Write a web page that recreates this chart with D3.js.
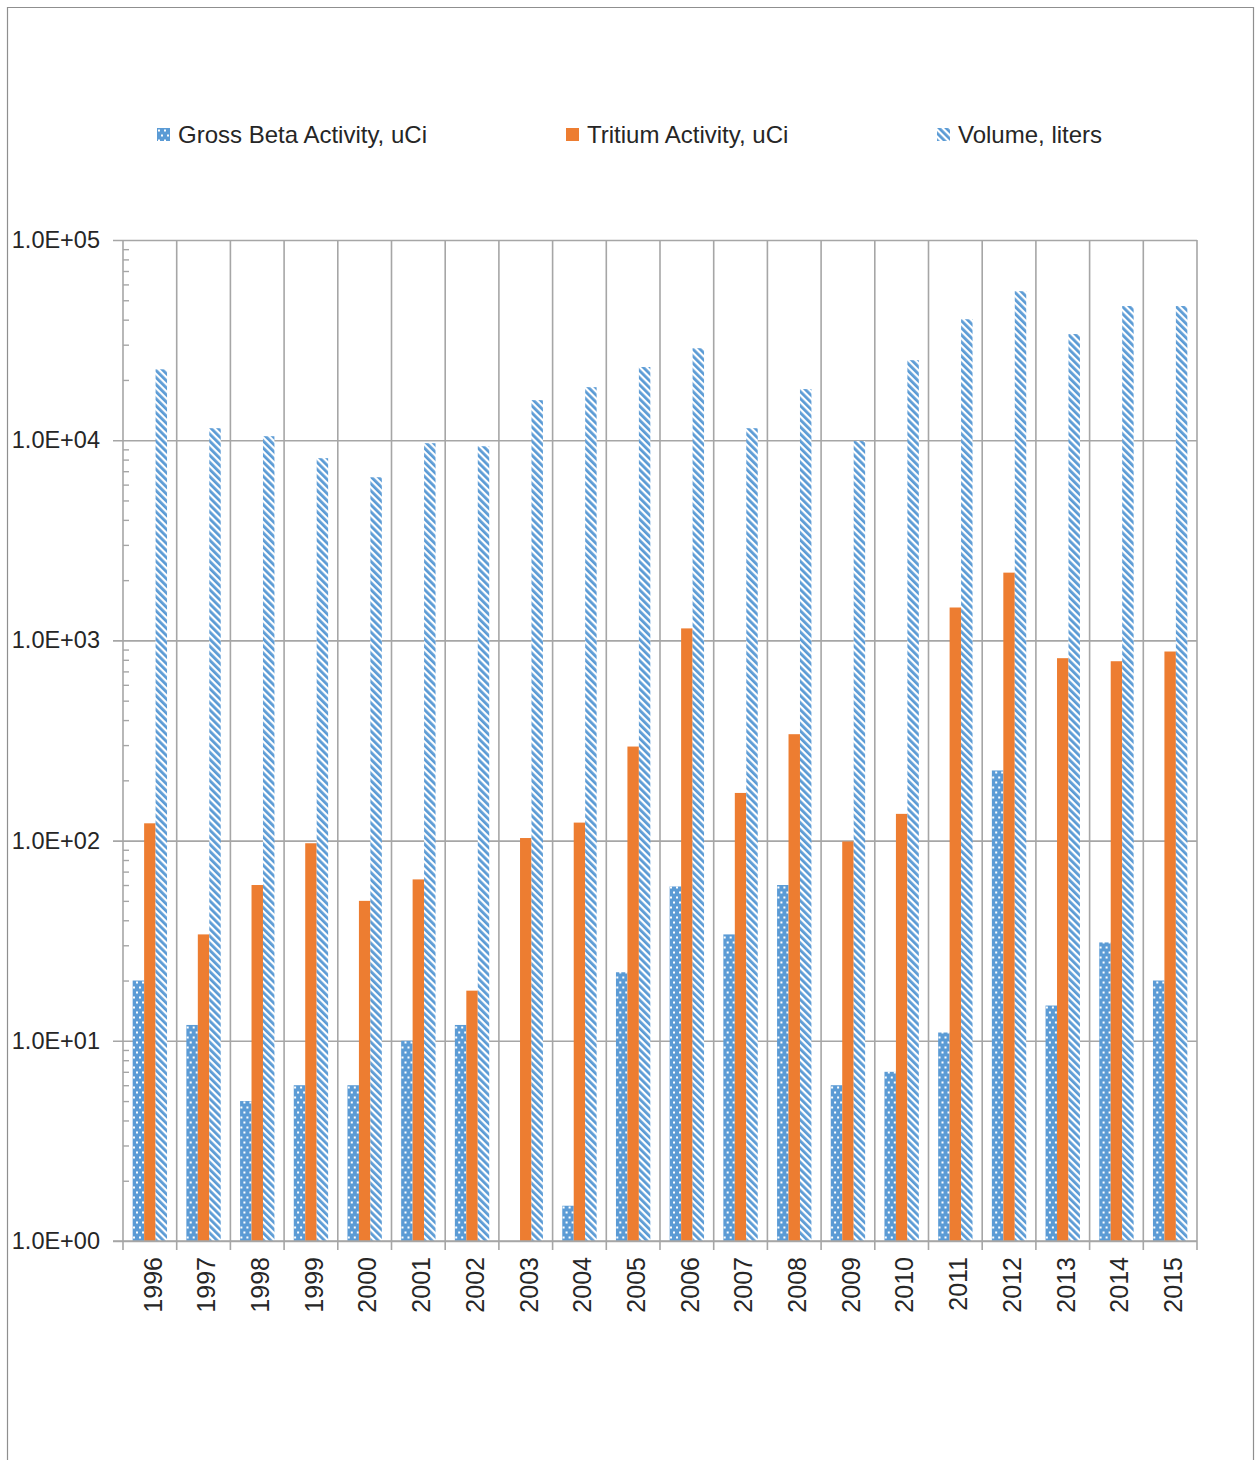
<!DOCTYPE html>
<html>
<head>
<meta charset="utf-8">
<script src="https://cdn.jsdelivr.net/npm/d3@7"></script>
<style>
  html, body { margin: 0; padding: 0; background: #fff; }
  svg text { font-family: "Liberation Sans", Arial, sans-serif; fill: #262626; }
</style>
</head>
<body>
<svg id="chart" width="1255" height="1460"></svg>
<script>
// Annual releases per year (log scale)
const years = ["1996","1997","1998","1999","2000","2001","2002","2003","2004","2005",
               "2006","2007","2008","2009","2010","2011","2012","2013","2014","2015"];
const grossBeta = [20, 12, 5, 6, 6, 10, 12, null, 1.5, 22,
                   59, 34, 60, 6, 7, 11, 224, 15, 31, 20];
const tritium   = [122, 34, 60, 97, 50, 64, 17.8, 103, 123, 295,
                   1148, 173, 340, 99, 136, 1460, 2180, 815, 787, 880];
const volume    = [22600, 11480, 10470, 8130, 6530, 9660, 9330, 15850, 18400, 23200,
                   28800, 11480, 18000, 9900, 25100, 40200, 55500, 33900, 46800, 46800];
const seriesNames = ["Gross Beta Activity, uCi", "Tritium Activity, uCi", "Volume, liters"];
const yTickValues = [1, 10, 100, 1000, 10000, 100000];
const yTickLabels = ["1.0E+00", "1.0E+01", "1.0E+02", "1.0E+03", "1.0E+04", "1.0E+05"];

const svg = d3.select("#chart");
const blue = "#5b9bd5", orange = "#ed7d31", grid = "#a6a6a6";

// Outer frame
svg.append("path")
  .attr("d", "M7.5,1460 V7.5 H1253.5 V1460")
  .attr("fill", "none").attr("stroke", "#8f8f8f").attr("stroke-width", 1.2);

// Fill patterns
const defs = svg.append("defs");
const dots = defs.append("pattern").attr("id", "dots")
  .attr("patternUnits", "userSpaceOnUse").attr("width", 6).attr("height", 10);
dots.append("rect").attr("width", 6).attr("height", 10).attr("fill", blue);
dots.append("rect").attr("x", 1).attr("y", 1.5).attr("width", 2).attr("height", 2).attr("fill", "#fff");
dots.append("rect").attr("x", 4).attr("y", 6.5).attr("width", 2).attr("height", 2).attr("fill", "#fff");

const stripes = defs.append("pattern").attr("id", "stripes")
  .attr("patternUnits", "userSpaceOnUse").attr("width", 5).attr("height", 5)
  .attr("patternTransform", "rotate(-45)");
stripes.append("rect").attr("width", 5).attr("height", 5).attr("fill", "#fff");
stripes.append("rect").attr("width", 2.8).attr("height", 5).attr("fill", blue);

const fills = ["url(#dots)", orange, "url(#stripes)"];
const seriesData = [grossBeta, tritium, volume];

// Plot geometry
const plotLeft = 123, plotRight = 1197, plotTop = 240, plotBottom = 1241;

const x = d3.scaleBand().domain(years).range([plotLeft, plotRight]).padding(0);
const xInner = d3.scaleBand().domain(d3.range(3))
  .range([x.bandwidth() * 0.18, x.bandwidth() * 0.82]).padding(0);
const y = d3.scaleLog().domain([1, 100000]).range([plotBottom, plotTop]);

// Horizontal gridlines + major ticks
const yAxis = d3.axisLeft(y)
  .tickValues(yTickValues)
  .tickSizeInner(10)
  .tickSizeOuter(0)
  .tickPadding(13)
  .tickFormat((d, i) => yTickLabels[i]);
const gy = svg.append("g").attr("transform", `translate(${plotLeft},0)`).call(yAxis);
gy.select(".domain").remove();
gy.selectAll(".tick line").attr("stroke", grid).attr("stroke-width", 1.6)
  .attr("x1", -10).attr("x2", plotRight - plotLeft);
gy.selectAll(".tick text").attr("font-size", 23.5).attr("fill", "#262626");

// Minor ticks inside the axis
const minorValues = [];
for (let e = 0; e < 5; e++) for (let m = 2; m <= 9; m++) minorValues.push(m * Math.pow(10, e));
const gMinor = svg.append("g").attr("transform", `translate(${plotLeft},0)`)
  .call(d3.axisRight(y).tickValues(minorValues).tickSizeInner(6).tickSizeOuter(0).tickFormat(""));
gMinor.select(".domain").remove();
gMinor.selectAll(".tick line").attr("stroke", grid).attr("stroke-width", 1.4);

// Vertical gridlines at category boundaries
const bounds = years.map(d => x(d)).concat([x.range()[1]]);
svg.append("g").selectAll("line").data(bounds).join("line")
  .attr("x1", d => d).attr("x2", d => d)
  .attr("y1", plotTop).attr("y2", plotBottom + 9)
  .attr("stroke", grid).attr("stroke-width", 1.6);

// Bars
const groups = svg.append("g").selectAll("g").data(years).join("g")
  .attr("transform", d => `translate(${x(d)},0)`);
groups.selectAll("rect")
  .data((yr, i) => seriesData.map((s, k) => ({ k, v: s[i] })).filter(d => d.v != null))
  .join("rect")
  .attr("x", d => xInner(d.k))
  .attr("width", xInner.bandwidth())
  .attr("y", d => y(d.v))
  .attr("height", d => y(1) - y(d.v))
  .attr("fill", d => fills[d.k]);

// Bottom axis line
svg.append("line").attr("x1", plotLeft - 10).attr("x2", plotRight)
  .attr("y1", plotBottom).attr("y2", plotBottom).attr("stroke", grid).attr("stroke-width", 1.6);

// Category labels (rotated)
const xAxis = d3.axisBottom(x).tickSize(0).tickPadding(0);
const gx = svg.append("g").attr("transform", `translate(0,${plotBottom})`).call(xAxis);
gx.select(".domain").remove();
gx.selectAll(".tick text")
  .attr("font-size", 25)
  .attr("fill", "#262626")
  .attr("text-anchor", "end")
  .attr("transform", "rotate(-90)")
  .attr("x", -16)
  .attr("y", 3)
  .attr("dy", "0.35em");

// Legend
const legendX = [157, 566, 937];
const legend = svg.append("g").selectAll("g").data(seriesNames).join("g")
  .attr("transform", (d, i) => `translate(${legendX[i]},128)`);
legend.append("rect").attr("width", 13).attr("height", 13)
  .attr("fill", (d, i) => fills[i]);
legend.append("text").attr("x", 21).attr("y", 14.5)
  .attr("font-size", 24).text(d => d);
</script>
</body>
</html>
